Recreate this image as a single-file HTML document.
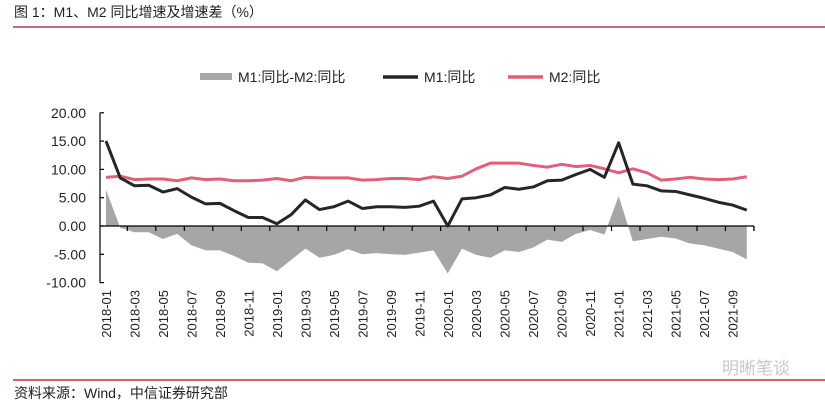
<!DOCTYPE html>
<html><head><meta charset="utf-8"><style>
body{margin:0;background:#fff;}
#wrap{position:relative;width:825px;height:408px;overflow:hidden;font-family:"Liberation Sans","Noto Sans CJK SC",sans-serif;}
</style></head><body>
<div id="wrap">
<svg id="svg" width="825" height="408" xmlns="http://www.w3.org/2000/svg">
<text x="14" y="17" font-size="14" fill="#222" font-family="Liberation Sans, Noto Sans CJK SC, sans-serif">图 1：M1、M2 同比增速及增速差（%）</text>
<line x1="13" y1="27" x2="825" y2="27" stroke="#b01020" stroke-width="1.2"/>
<g>
<rect x="200" y="73" width="32" height="7" fill="#a6a6a6"/>
<text x="238" y="82" font-size="14" fill="#222">M1:同比-M2:同比</text>
<line x1="383" y1="77" x2="418" y2="77" stroke="#262626" stroke-width="3.5"/>
<text x="424" y="82" font-size="14" fill="#222">M1:同比</text>
<line x1="508" y1="77" x2="543" y2="77" stroke="#e0607a" stroke-width="3.5"/>
<text x="549" y="82" font-size="14" fill="#222">M2:同比</text>
</g>
<g id="plot"></g>
<text x="722" y="374" font-size="17" fill="#c8c8c8">明晰笔谈</text>
<line x1="13" y1="380" x2="825" y2="380" stroke="#c00010" stroke-width="1.2"/>
<text x="14" y="398" font-size="14" fill="#222">资料来源：Wind，中信证券研究部</text>
</svg>
</div>
<script>
const months=["2018-01","2018-02","2018-03","2018-04","2018-05","2018-06","2018-07","2018-08","2018-09","2018-10","2018-11","2018-12","2019-01","2019-02","2019-03","2019-04","2019-05","2019-06","2019-07","2019-08","2019-09","2019-10","2019-11","2019-12","2020-01","2020-02","2020-03","2020-04","2020-05","2020-06","2020-07","2020-08","2020-09","2020-10","2020-11","2020-12","2021-01","2021-02","2021-03","2021-04","2021-05","2021-06","2021-07","2021-08","2021-09","2021-10"];
const m1=[15.0,8.5,7.1,7.2,6.0,6.6,5.1,3.9,4.0,2.7,1.5,1.5,0.4,2.0,4.6,2.9,3.4,4.4,3.1,3.4,3.4,3.3,3.5,4.4,0.0,4.8,5.0,5.5,6.8,6.5,6.9,8.0,8.1,9.1,10.0,8.6,14.7,7.4,7.1,6.2,6.1,5.5,4.9,4.2,3.7,2.8];
const m2=[8.6,8.8,8.2,8.3,8.3,8.0,8.5,8.2,8.3,8.0,8.0,8.1,8.4,8.0,8.6,8.5,8.5,8.5,8.1,8.2,8.4,8.4,8.2,8.7,8.4,8.8,10.1,11.1,11.1,11.1,10.7,10.4,10.9,10.5,10.7,10.1,9.4,10.1,9.4,8.1,8.3,8.6,8.3,8.2,8.3,8.7];
const yTicks=[20,15,10,5,0,-5,-10];
const yTickLabels=["20.00","15.00","10.00","5.00","0.00","-5.00","-10.00"];
const diff=m1.map((v,i)=>+(v-m2[i]).toFixed(2));
const NS="http://www.w3.org/2000/svg";
const plot=document.getElementById('plot');
const X0=106,DX=14.24,Y0=226,PY=28.3/5;
const xs=i=>X0+i*DX, ys=v=>Y0-v*PY;
function mk(t,a){const e=document.createElementNS(NS,t);for(const k in a)e.setAttribute(k,a[k]);plot.appendChild(e);return e;}
let d="M"+xs(0)+" "+ys(0);
diff.forEach((v,i)=>{d+=" L"+xs(i).toFixed(2)+" "+ys(v).toFixed(2);});
d+=" L"+xs(diff.length-1)+" "+ys(0)+" Z";
const area=mk('path',{d:d,fill:'#a6a6a6'});


const ya=mk('line',{x1:100,y1:ys(20),x2:100,y2:ys(-10),stroke:'#000','stroke-width':1.2});


yTicks.forEach((t,i)=>{
  const tk=mk('line',{x1:100,y1:ys(t),x2:104,y2:ys(t),stroke:'#000','stroke-width':1.2});
  
  
  const tx=mk('text',{x:86,y:ys(t)+5,'font-size':14,'text-anchor':'end',fill:'#222'});
  tx.textContent=yTickLabels[i];
  
  
});
const xa=mk('line',{x1:100,y1:Y0,x2:754,y2:Y0,stroke:'#000','stroke-width':1.2});


months.forEach((m,i)=>{
  if(i%2===1){
    const tk=mk('line',{x1:xs(i)+DX/2,y1:Y0,x2:xs(i)+DX/2,y2:Y0+5,stroke:'#000','stroke-width':1.2});
    
    
  }
  if(i%2===0){
    const tx=mk('text',{x:0,y:0,'font-size':13,'text-anchor':'end',fill:'#222',transform:`translate(${xs(i)+5},290) rotate(-90)`});
    tx.textContent=m;
    
    
  }
});
const t2=mk('line',{x1:754,y1:Y0,x2:754,y2:Y0+5,stroke:'#000','stroke-width':1.2});


function line(arr,col,name){
  const p=mk('polyline',{points:arr.map((v,i)=>xs(i).toFixed(2)+","+ys(v).toFixed(2)).join(" "),fill:'none',stroke:col,'stroke-width':3,'stroke-linejoin':'round'});
  
  
}
line(m2,'#e0607a','m2-line');
line(m1,'#262626','m1-line');
</script>
</body></html>
